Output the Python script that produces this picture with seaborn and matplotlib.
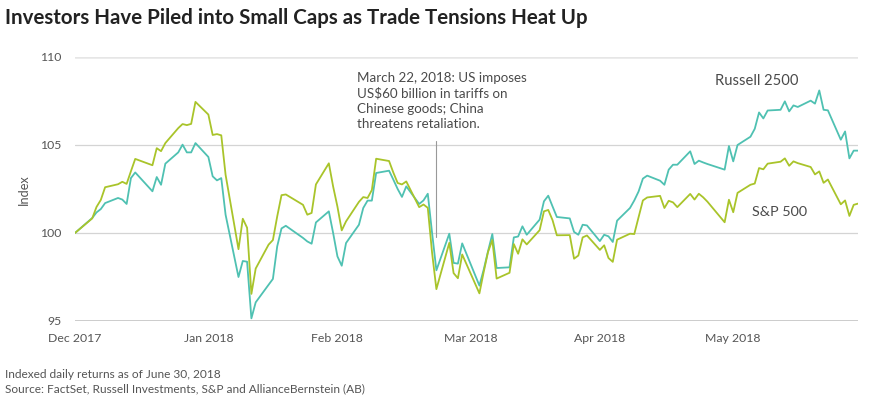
import matplotlib
matplotlib.use("Agg")
import matplotlib.pyplot as plt
import seaborn as sns
import pandas as pd

# ---- data -------------------------------------------------------------
holidays = ["2018-01-01", "2018-01-15", "2018-02-19", "2018-03-30", "2018-05-28"]
dates = [pd.Timestamp("2017-12-29")] + list(
    pd.bdate_range("2018-01-02", "2018-06-29", freq="C", holidays=holidays))

sp500 = [100.00,
    100.83, 101.48, 101.88, 102.60, 102.77, 102.91, 102.79, 103.51, 104.21, 103.85,
    104.82, 104.65, 105.11, 105.96, 106.19, 106.13, 106.20, 107.45, 106.73, 105.57, 105.62,
    105.55, 103.31, 99.08, 100.81, 100.30, 96.54, 97.98, 99.34, 99.60, 100.94,
    102.15, 102.19, 101.60, 101.04, 101.14, 102.76, 103.96, 102.64, 101.50,
    100.15, 100.66, 101.77, 102.04, 101.99, 102.44, 104.22, 104.09, 103.43, 102.84,
    102.76, 102.93, 101.47, 101.62, 101.43, 98.88, 96.81, 99.44, 97.72, 97.43, 98.78,
    96.57, 97.79, 98.92, 99.60, 97.41, 97.74, 99.37, 98.82, 99.64, 99.35,
    100.16, 101.23, 101.31, 100.73, 99.87, 99.88, 98.54, 98.72, 99.75, 99.86, 99.04,
    99.30, 98.58, 98.36, 99.62, 99.96, 99.94, 100.90, 101.85, 102.02, 102.11, 101.42,
    101.83, 101.74, 101.47, 102.22, 101.90, 102.23, 102.03, 101.78, 100.61, 101.89, 101.18,
    102.28, 102.74, 102.81, 103.69, 103.62, 103.94, 104.05, 104.24, 103.82, 104.07,
    103.97, 103.75, 103.33, 103.50, 102.85, 103.04, 101.63, 101.85, 100.97, 101.60, 101.67]

russell2500 = [100.00,
    100.85, 101.17, 101.36, 101.70, 101.99, 101.90, 101.65, 103.12, 103.44, 102.37,
    103.18, 102.74, 103.94, 104.58, 105.02, 104.58, 104.58, 105.11, 104.32, 103.22, 102.99,
    103.12, 101.04, 97.50, 98.41, 98.37, 95.15, 96.06, 97.06, 97.39, 99.24,
    100.26, 100.41, 99.72, 99.52, 99.39, 100.60, 101.23, 100.00, 98.67,
    98.14, 99.43, 100.47, 101.42, 101.84, 101.84, 103.41, 103.54, 103.03, 102.50,
    102.05, 102.65, 101.65, 101.85, 102.23, 100.00, 97.88, 99.96, 98.30, 98.26, 99.41,
    97.01, 97.92, 98.96, 99.94, 98.01, 98.05, 99.75, 99.80, 100.38, 99.90,
    100.76, 101.80, 102.12, 101.51, 100.91, 100.83, 100.06, 99.90, 100.47, 100.43, 99.54,
    99.90, 99.81, 99.49, 100.70, 101.42, 101.85, 102.36, 103.09, 103.26, 102.97, 102.74,
    103.60, 103.88, 103.88, 104.64, 103.92, 104.11, 104.01, 103.92, 103.60, 104.94, 104.07,
    105.00, 105.47, 105.92, 106.85, 106.51, 106.96, 107.00, 107.48, 106.91, 107.25,
    107.16, 107.52, 107.35, 108.10, 107.00, 106.97, 105.30, 105.77, 104.24, 104.68, 104.68]

tick_dates = ["2017-12-29", "2018-01-29", "2018-02-28", "2018-03-31", "2018-04-30", "2018-05-31"]
tick_labels = ["Dec 2017", "Jan 2018", "Feb 2018", "Mar 2018", "Apr 2018", "May 2018"]
y_ticks = [95, 100, 105, 110]

event_date = "2018-03-23"
event_text = ("March 22, 2018: US imposes\nUS$60 billion in tariffs on\n"
              "Chinese goods; China\nthreatens retaliation.")

title = "Investors Have Piled into Small Caps as Trade Tensions Heat Up"
note1 = "Indexed daily returns as of June 30, 2018"
note2 = "Source: FactSet, Russell Investments, S&P and AllianceBernstein (AB)"

# ---- figure -----------------------------------------------------------
sns.set_theme(style="white")
plt.rcParams["font.family"] = ["Lato", "DejaVu Sans"]

df = pd.DataFrame({
    "date": dates * 2,
    "value": russell2500 + sp500,
    "series": ["Russell 2500"] * len(dates) + ["S&P 500"] * len(dates),
})

TEAL = "#4FC1B2"
GREEN = "#A9C42A"
TXT = "#4a4a4a"

W, H = 880, 398
fig = plt.figure(figsize=(W / 100, H / 100), dpi=100)
ax = fig.add_axes([75 / W, 1 - 321 / H, (858 - 75) / W, (321 - 57) / H])

for yv in y_ticks:
    if yv == 110:
        ax.axhline(yv, color="#e6e6e6", lw=1.8, zorder=0)
    elif yv == 95:
        ax.axhline(yv, color="#c4c4c4", lw=1.2, zorder=0)
    else:
        ax.axhline(yv, color="#d4d4d4", lw=0.9, zorder=0)

sns.lineplot(data=df, x="date", y="value", hue="series",
             palette={"Russell 2500": TEAL, "S&P 500": GREEN},
             linewidth=1.3, ax=ax, legend=False, zorder=3)

ax.set_xlim(pd.Timestamp(dates[0]), pd.Timestamp(dates[-1]))
ax.set_ylim(95, 110)
ax.set_yticks(y_ticks)
ax.set_yticklabels([str(v) for v in y_ticks])
ax.set_xticks([pd.Timestamp(d) for d in tick_dates])
ax.set_xticklabels(tick_labels)
ax.tick_params(axis="both", length=0, labelsize=8.8, colors="#555555")
ax.tick_params(axis="x", pad=8.5)
ax.tick_params(axis="y", pad=9.5)
for s in ax.spines.values():
    s.set_visible(False)
ax.set_xlabel("")
ax.set_ylabel("")

fig.text(24 / W, 1 - 190 / H, "Index", rotation=90, fontsize=9.2,
         color="#555555", ha="center", va="center")

# event annotation
ev = pd.Timestamp(event_date)
ax.plot([ev, ev], [105.2, 99.8], color="#999999", lw=0.8, zorder=2)
fig.text(357 / W, 1 - 72 / H, event_text, fontsize=9.6,
         color=TXT, va="top", ha="left", linespacing=1.3)

# series labels
fig.text(757 / W, 1 - 81 / H, "Russell 2500", fontsize=10.6,
         color=TXT, ha="center", va="center")
fig.text(780 / W, 1 - 212 / H, "S&P 500", fontsize=10.4,
         color=TXT, ha="center", va="center")

fig.text(5 / W, 1 - 18 / H, title, fontsize=14.8, fontweight="bold",
         color="#222222", ha="left", va="center")
fig.text(5 / W, 1 - 374 / H, note1, fontsize=8.6, color="#555555",
         ha="left", va="center")
fig.text(5 / W, 1 - 389 / H, note2, fontsize=8.6, color="#555555",
         ha="left", va="center")

fig.savefig("out.png", dpi=100)
